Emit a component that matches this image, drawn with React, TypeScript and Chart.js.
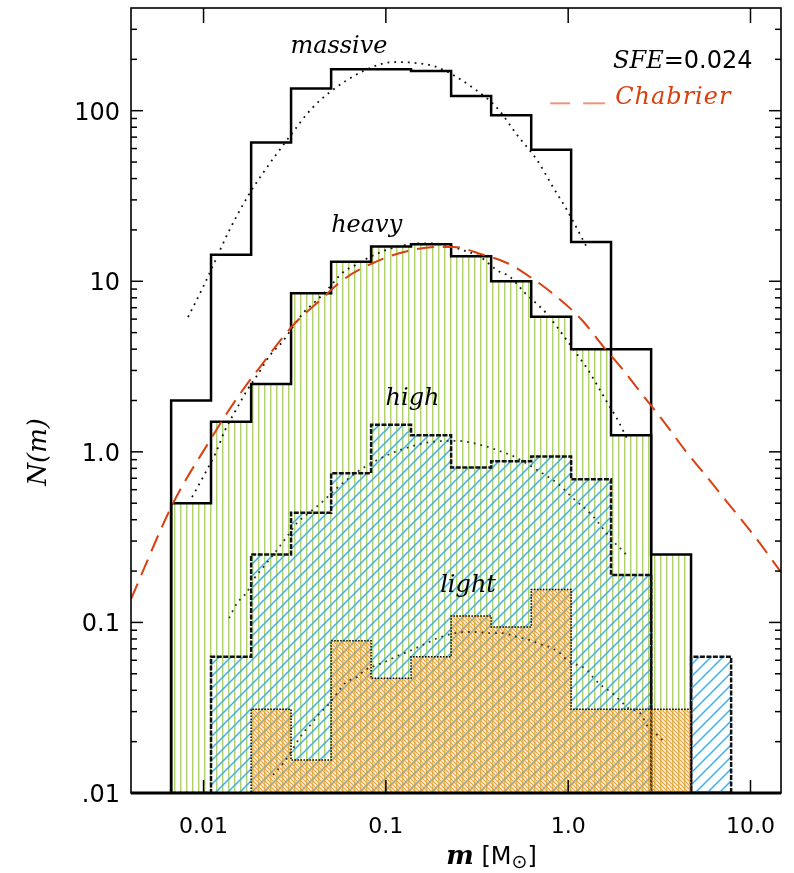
import React, { useEffect, useRef } from "react";
import { Chart, registerables } from "chart.js";
Chart.register(...registerables);

// ---- data ----
const BIN_EDGES = [0.00664, 0.01099, 0.01824, 0.0302, 0.0501, 0.083, 0.1374, 0.228, 0.378, 0.627, 1.038, 1.718, 2.851, 4.72, 7.83];
const MASSIVE = [2.0, 14.3, 65, 135, 175, 175, 171, 122, 94, 59, 17, 4.0, 0, 0];
const HEAVY = [0.5, 1.5, 2.5, 8.5, 13, 16, 16.5, 14, 10, 6.2, 4.0, 1.25, 0.25, 0];
const HIGH = [0, 0.063, 0.25, 0.44, 0.75, 1.44, 1.25, 0.81, 0.88, 0.94, 0.69, 0.19, 0, 0.063];
const LIGHT = [0, 0, 0.031, 0.0156, 0.078, 0.047, 0.063, 0.109, 0.094, 0.156, 0.031, 0.031, 0.031, 0];

const MASSIVE_FIT_M = [0.00822, 0.00982, 0.01156, 0.01362, 0.01753, 0.02119, 0.0287, 0.0399, 0.0612, 0.0928, 0.115, 0.148, 0.191, 0.301, 0.407, 0.525, 0.675, 0.826, 0.986, 1.27];
const MASSIVE_FIT_N = [6.17, 9.0, 13.1, 19.2, 31.6, 43.1, 67.3, 105, 151, 187, 193, 190, 180, 136, 104, 72, 51.3, 35.6, 26.1, 15.7];

const HEAVY_FIT_M = [0.00865, 0.00994, 0.01172, 0.01312, 0.01528, 0.01734, 0.01992, 0.02317, 0.027, 0.0306, 0.0356, 0.0414, 0.0475, 0.0582, 0.0695, 0.0819, 0.1094, 0.16, 0.206, 0.255, 0.329, 0.407, 0.48, 0.58, 0.667, 0.766, 0.869, 0.973, 1.148, 1.286, 1.496, 1.655, 1.832, 2.1];
const HEAVY_FIT_N = [0.543, 0.712, 0.998, 1.34, 1.81, 2.3, 2.86, 3.69, 4.4, 5.32, 6.6, 7.65, 8.88, 11.3, 12.6, 13.9, 15.7, 16.7, 16.5, 15.4, 13.9, 11.6, 10.6, 8.53, 7.45, 6.42, 5.39, 4.58, 3.59, 3.02, 2.3, 1.91, 1.6, 1.2];

const HIGH_FIT_M = [0.01381, 0.01528, 0.01734, 0.01893, 0.02174, 0.0253, 0.0291, 0.0326, 0.0384, 0.0447, 0.054, 0.0695, 0.0895, 0.1197, 0.175, 0.246, 0.329, 0.423, 0.524, 0.675, 0.869, 1.06, 1.35, 1.53, 1.74, 1.97, 2.13];
const HIGH_FIT_N = [0.106, 0.13, 0.151, 0.18, 0.217, 0.266, 0.325, 0.383, 0.444, 0.508, 0.614, 0.762, 0.895, 1.025, 1.14, 1.16, 1.1, 1.01, 0.92, 0.782, 0.656, 0.536, 0.426, 0.362, 0.304, 0.266, 0.242];

const LIGHT_FIT_M = [0.02404, 0.02767, 0.0306, 0.0351, 0.0394, 0.0425, 0.0482, 0.0547, 0.0597, 0.0695, 0.0769, 0.0895, 0.1016, 0.1151, 0.1306, 0.168, 0.193, 0.24, 0.279, 0.316, 0.373, 0.433, 0.525, 0.618, 0.7, 0.814, 0.901, 0.985, 1.27, 1.38, 1.56, 1.71, 1.97, 2.13, 2.48, 2.74, 3.0, 3.19, 3.4];
const LIGHT_FIT_N = [0.01276, 0.0152, 0.01787, 0.02248, 0.02572, 0.02866, 0.0328, 0.0391, 0.0441, 0.0479, 0.0526, 0.0563, 0.0594, 0.0635, 0.067, 0.0757, 0.081, 0.0866, 0.0879, 0.0879, 0.0866, 0.0866, 0.0821, 0.0788, 0.0747, 0.0708, 0.0662, 0.0602, 0.0526, 0.0472, 0.0418, 0.0391, 0.0341, 0.0315, 0.0294, 0.0244, 0.0225, 0.021, 0.0199];

const CHABRIER_M = [0.004, 0.00681, 0.01086, 0.01345, 0.018, 0.0204, 0.027, 0.0318, 0.0425, 0.0582, 0.0851, 0.1242, 0.191, 0.234, 0.341, 0.462, 0.618, 0.869, 1.19, 1.55, 2.0, 2.61, 3.4, 4.38, 5.78, 7.44, 10.6, 14.7];
const CHABRIER_N = [0.137, 0.501, 1.17, 1.69, 2.64, 3.14, 4.65, 5.69, 7.55, 10.2, 12.8, 14.8, 15.9, 15.9, 14.3, 12.8, 10.6, 8.08, 5.93, 4.17, 3.02, 2.1, 1.47, 1.02, 0.712, 0.508, 0.317, 0.197];

const X_TICKS = [0.01, 0.1, 1, 10];
const X_TICK_LABELS = ["0.01", "0.1", "1.0", "10.0"];
const Y_TICKS = [0.01, 0.1, 1, 10, 100];
const Y_TICK_LABELS = [".01", "0.1", "1.0", "10", "100"];
const Y_MINOR_MULT = [2, 3, 4, 5, 6, 7, 8, 9];

const LABEL_TEXT = ["massive", "heavy", "high", "light"];
const LABEL_M = [0.0553, 0.0785, 0.14, 0.2825];
const LABEL_N = [218, 19.5, 1.88, 0.151];

const X_MIN = 0.004;
const X_MAX = 14.7;
const Y_MIN = 0.01;
const Y_MAX = 400;

const steps = (edges: number[], vals: number[], floor: number) => {
  const pts: { x: number; y: number }[] = [{ x: edges[0], y: floor }];
  vals.forEach((v, i) => {
    const y = v > 0 ? v : floor;
    pts.push({ x: edges[i], y }, { x: edges[i + 1], y });
  });
  pts.push({ x: edges[edges.length - 1], y: floor });
  return pts;
};
const zip = (xs: number[], ys: number[]) => xs.map((x, i) => ({ x, y: ys[i] }));

function makePattern(size: number, draw: (g: CanvasRenderingContext2D, s: number) => void) {
  const c = document.createElement("canvas");
  c.width = size;
  c.height = size;
  const g = c.getContext("2d")!;
  draw(g, size);
  return g.createPattern(c, "repeat")!;
}

const SERIF_I = "italic 24px 'DejaVu Serif'";
const RED = "#d9400f";

const decor = {
  id: "decor",
  afterDraw(chart: any) {
    const ctx: CanvasRenderingContext2D = chart.ctx;
    const { left, right, top, bottom } = chart.chartArea;
    const xs = chart.scales.x;
    const ys = chart.scales.y;
    const line = (x1: number, y1: number, x2: number, y2: number) => {
      ctx.beginPath();
      ctx.moveTo(x1, y1);
      ctx.lineTo(x2, y2);
      ctx.stroke();
    };
    ctx.save();
    ctx.strokeStyle = "#000";
    ctx.lineWidth = 1.6;
    ctx.strokeRect(left, top, right - left, bottom - top);
    ctx.lineWidth = 3;
    line(left, bottom, right, bottom);

    ctx.lineWidth = 1.5;
    X_TICKS.forEach((v) => {
      const px = xs.getPixelForValue(v);
      line(px, top, px, top + 15);
      line(px, bottom, px, bottom - 13);
    });
    Y_TICKS.forEach((d) => {
      const py = ys.getPixelForValue(d);
      line(left, py, left + 12, py);
      line(right, py, right - 12, py);
      Y_MINOR_MULT.forEach((k) => {
        const v = d * k;
        if (v >= Y_MAX) return;
        const p = ys.getPixelForValue(v);
        line(left, p, left + 6, p);
        line(right, p, right - 6, p);
      });
    });

    // tick labels
    ctx.fillStyle = "#000";
    ctx.font = "24px 'DejaVu Sans'";
    ctx.textAlign = "right";
    ctx.textBaseline = "alphabetic";
    Y_TICKS.forEach((v, i) => {
      ctx.fillText(Y_TICK_LABELS[i], left - 11, ys.getPixelForValue(v) + 9);
    });
    ctx.font = "22px 'DejaVu Sans'";
    ctx.textAlign = "center";
    X_TICKS.forEach((v, i) => {
      ctx.fillText(X_TICK_LABELS[i], xs.getPixelForValue(v), bottom + 40);
    });

    // x title
    const parts: [string, string, number][] = [
      ["m", "bold italic 26px 'DejaVu Serif'", 0],
      [" ", "24px 'DejaVu Sans'", 0],
      ["[M", "24px 'DejaVu Sans'", 0],
      ["\u2299", "19px 'DejaVu Sans'", 4],
      ["]", "24px 'DejaVu Sans'", 0],
    ];
    let total = 0;
    parts.forEach(([t, f]) => {
      ctx.font = f;
      total += ctx.measureText(t).width;
    });
    let cx = xs.getPixelForValue(0.38) - total / 2;
    ctx.textAlign = "left";
    parts.forEach(([t, f, dy]) => {
      ctx.font = f;
      ctx.fillText(t, cx, bottom + 71 + dy);
      cx += ctx.measureText(t).width;
    });

    // y title
    ctx.save();
    ctx.translate(39, ys.getPixelForValue(1.0));
    ctx.rotate(-Math.PI / 2);
    ctx.font = "italic 26px 'DejaVu Serif'";
    ctx.textAlign = "center";
    ctx.textBaseline = "middle";
    ctx.fillText("N(m)", 0, 0);
    ctx.restore();

    // curve labels
    ctx.font = SERIF_I;
    ctx.textAlign = "center";
    ctx.textBaseline = "alphabetic";
    LABEL_TEXT.forEach((t, i) => {
      ctx.fillText(t, xs.getPixelForValue(LABEL_M[i]), ys.getPixelForValue(LABEL_N[i]));
    });

    // SFE
    ctx.textAlign = "left";
    let sx = xs.getPixelForValue(1.763);
    const sy = ys.getPixelForValue(178);
    ctx.font = SERIF_I;
    ctx.fillText("SFE", sx, sy);
    sx += ctx.measureText("SFE").width;
    ctx.font = "24px 'DejaVu Sans'";
    ctx.fillText("=0.024", sx, sy);

    // Chabrier legend
    const chx = xs.getPixelForValue(1.81);
    const chy = ys.getPixelForValue(109);
    ctx.fillStyle = RED;
    ctx.font = SERIF_I;
    (ctx as any).letterSpacing = "1px";
    ctx.fillText("Chabrier", chx, chy);
    (ctx as any).letterSpacing = "0px";
    ctx.strokeStyle = "#f0957a";
    ctx.lineWidth = 2;
    line(chx - 65, chy - 1, chx - 45, chy - 1);
    line(chx - 32, chy - 1, chx - 10, chy - 1);
    ctx.restore();
  },
};

export default function App() {
  const ref = useRef<HTMLCanvasElement | null>(null);
  useEffect(() => {
    document.body.style.margin = "0";
    const canvas = ref.current!;
    const greenPat = makePattern(6, (g) => {
      g.fillStyle = "#b2d26a";
      g.fillRect(0, 0, 1, 6);
      g.fillStyle = "#dcebb8";
      g.fillRect(1, 0, 1, 6);
    });
    const bluePat = makePattern(12, (g) => {
      g.strokeStyle = "#3aaef0";
      g.lineWidth = 1.5;
      const seg = (a: number, b: number, c: number, d: number) => {
        g.beginPath();
        g.moveTo(a, b);
        g.lineTo(c, d);
        g.stroke();
      };
      seg(-1, 13, 13, -1);
      seg(-1, 1, 1, -1);
      seg(11, 13, 13, 11);
    });
    const orangePat = makePattern(4, (g) => {
      g.fillStyle = "rgba(247,180,100,0.22)";
      g.fillRect(0, 0, 4, 4);
      g.strokeStyle = "rgba(242,150,40,0.9)";
      g.lineWidth = 1.1;
      const seg = (a: number, b: number, c: number, d: number) => {
        g.beginPath();
        g.moveTo(a, b);
        g.lineTo(c, d);
        g.stroke();
      };
      seg(-1, -1, 5, 5);
      seg(-1, 3, 1, 5);
      seg(3, -1, 5, 1);
    });

    const dotted = (data: any[], order: number, color = "#111") => ({
      data,
      borderColor: color,
      borderWidth: 1.8,
      borderDash: [1.8, 5],
      fill: false,
      cubicInterpolationMode: "monotone" as const,
      pointRadius: 0,
      order,
    });

    const chart = new Chart(canvas, {
      type: "line",
      data: {
        datasets: [
          {
            data: steps(BIN_EDGES, MASSIVE, Y_MIN),
            borderColor: "#000",
            borderWidth: 2.5,
            fill: false,
            pointRadius: 0,
            order: 10,
          },
          {
            data: steps(BIN_EDGES, HEAVY, Y_MIN),
            borderColor: "#000",
            borderWidth: 2.5,
            backgroundColor: greenPat as any,
            fill: "start",
            pointRadius: 0,
            order: 9,
          },
          {
            data: steps(BIN_EDGES, HIGH, Y_MIN),
            borderColor: "#111",
            borderWidth: 2.5,
            borderDash: [5, 1.5],
            backgroundColor: bluePat as any,
            fill: "start",
            pointRadius: 0,
            order: 8,
          },
          {
            data: steps(BIN_EDGES, LIGHT, Y_MIN),
            borderColor: "#000",
            borderWidth: 1.5,
            borderDash: [1.5, 1.5],
            backgroundColor: orangePat as any,
            fill: "start",
            pointRadius: 0,
            order: 7,
          },
          dotted(zip(MASSIVE_FIT_M, MASSIVE_FIT_N), 5),
          dotted(zip(HEAVY_FIT_M, HEAVY_FIT_N), 5),
          dotted(zip(HIGH_FIT_M, HIGH_FIT_N), 5, "#333"),
          dotted(zip(LIGHT_FIT_M, LIGHT_FIT_N), 5, "#333"),
          {
            data: zip(CHABRIER_M, CHABRIER_N),
            borderColor: RED,
            borderWidth: 2,
            borderDash: [17, 9],
            fill: false,
            cubicInterpolationMode: "monotone",
            pointRadius: 0,
            order: 1,
          },
        ],
      },
      options: {
        responsive: false,
        animation: false,
        events: [],
        layout: { padding: { left: 0, right: 13, top: 8, bottom: 0 } },
        plugins: { legend: { display: false }, tooltip: { enabled: false } },
        scales: {
          x: {
            type: "logarithmic",
            min: X_MIN,
            max: X_MAX,
            grid: { display: false },
            border: { display: false },
            ticks: { display: false },
            afterFit: (s: any) => {
              s.height = 80;
            },
          },
          y: {
            type: "logarithmic",
            min: Y_MIN,
            max: Y_MAX,
            grid: { display: false },
            border: { display: false },
            ticks: { display: false },
            afterFit: (s: any) => {
              s.width = 131;
            },
          },
        },
      },
      plugins: [decor],
    });
    return () => chart.destroy();
  }, []);
  return <canvas ref={ref} width={794} height={873} style={{ display: "block" }} />;
}
